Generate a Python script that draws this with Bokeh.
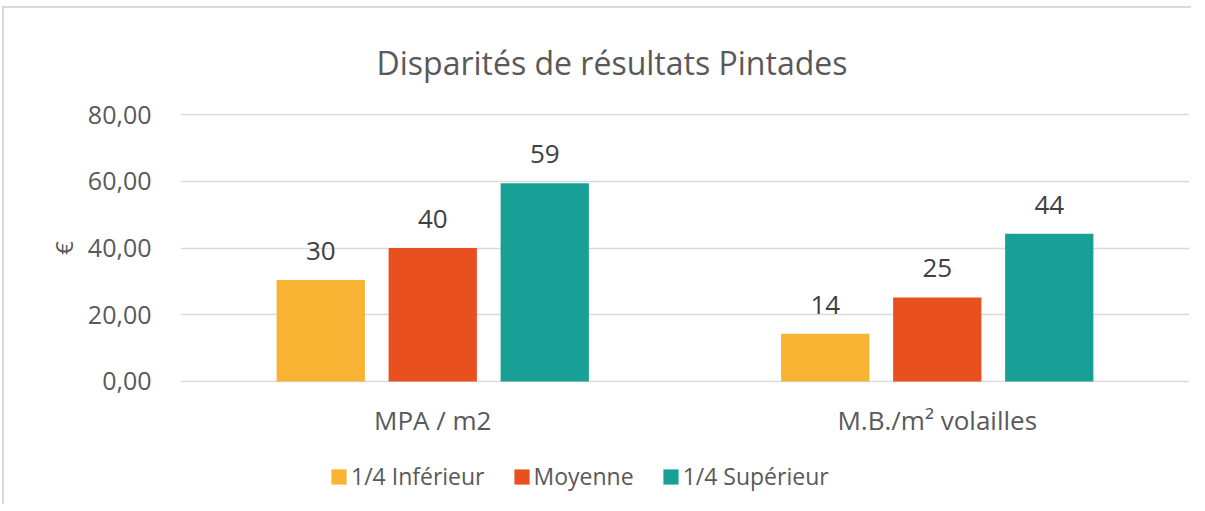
from bokeh.plotting import figure
from bokeh.models import ColumnDataSource, FactorRange, FixedTicker, CustomJSTickFormatter, Legend, LegendItem, Title
from bokeh.layouts import column
from bokeh.transform import dodge
from bokeh.core.properties import value
from bokeh.embed import file_html
from bokeh.resources import INLINE

categories = ["MPA / m2", "M.B./m² volailles"]
series_names = ["1/4 Inférieur", "Moyenne", "1/4 Supérieur"]
inferieur = [30.4, 14.3]
moyenne = [40.0, 25.2]
superieur = [59.4, 44.3]
y_ticks = [0, 20, 40, 60, 80]
colors = ["#F8B332", "#E85020", "#18A096"]

FONT = "Open Sans"
GREY = "#595959"
BORDER = "2px solid #d9d9d9"

src = ColumnDataSource(dict(
    cat=categories,
    inf=inferieur, moy=moyenne, sup=superieur,
    inf_t=[f"{v:.0f}" for v in inferieur],
    moy_t=[f"{v:.0f}" for v in moyenne],
    sup_t=[f"{v:.0f}" for v in superieur],
))

p = figure(x_range=FactorRange(*categories, range_padding=0), y_range=(-0.3, 80.3),
           frame_width=1007, frame_height=267,
           min_border_left=176, min_border_right=4, min_border_top=90, min_border_bottom=60,
           output_backend="svg", toolbar_location=None)
p.margin = (6, 0, 0, 2)
p.styles = {"border-left": BORDER, "border-top": BORDER}
p.outline_line_color = None
p.background_fill_color = "white"
p.border_fill_color = "white"

p.title = Title(text="Disparités de résultats Pintades", align="left", offset=196,
                text_font=FONT, text_font_size="32px", text_font_style="normal",
                text_color=GREY, standoff=60)

offsets = [-0.222, 0.0, 0.222]
fields = ["inf", "moy", "sup"]
for f, off, c in zip(fields, offsets, colors):
    p.vbar(x=dodge("cat", off, range=p.x_range), top=f, width=0.175, source=src,
           fill_color=c, line_color=None)
    p.text(x=dodge("cat", off, range=p.x_range), y=f, text=f + "_t", source=src,
           text_align="center", text_baseline="alphabetic", y_offset=-29,
           text_font=value(FONT), text_font_size="26px", text_color="#404040")

p.xgrid.grid_line_color = None
p.ygrid.grid_line_color = "#d9d9d9"
p.ygrid.grid_line_width = 1.5

p.yaxis.ticker = FixedTicker(ticks=y_ticks)
p.yaxis.formatter = CustomJSTickFormatter(code="return tick.toFixed(2).replace('.', ',');")
p.yaxis.axis_line_color = None
p.yaxis.major_tick_line_color = None
p.yaxis.minor_tick_line_color = None
p.yaxis.major_tick_out = 0
p.yaxis.major_label_standoff = 29
p.yaxis.major_label_text_font = FONT
p.yaxis.major_label_text_font_size = "25px"
p.yaxis.major_label_text_color = GREY
p.yaxis.axis_label = "€"
p.yaxis.axis_label_text_font = FONT
p.yaxis.axis_label_text_font_size = "24px"
p.yaxis.axis_label_text_font_style = "normal"
p.yaxis.axis_label_text_color = GREY
p.yaxis.axis_label_standoff = 5

p.xaxis.axis_line_color = None
p.xaxis.major_tick_line_color = None
p.xaxis.minor_tick_line_color = None
p.xaxis.major_tick_out = 0
p.xaxis.major_label_standoff = 19
p.xaxis.major_label_text_font = FONT
p.xaxis.major_label_text_font_size = "26px"
p.xaxis.major_label_text_color = GREY

# legend strip (renderers hidden; they only supply the legend swatches)
p2 = figure(x_range=FactorRange(*categories, range_padding=0), y_range=(0, 80),
            frame_width=1007, frame_height=64,
            min_border_left=176, min_border_right=4, min_border_top=0, min_border_bottom=0,
            output_backend="svg", toolbar_location=None)
p2.margin = (0, 0, 0, 2)
p2.styles = {"border-left": BORDER}
p2.outline_line_color = None
p2.xaxis.visible = False
p2.yaxis.visible = False
p2.xgrid.visible = False
p2.ygrid.visible = False
legend_renderers = []
for f, off, c in zip(fields, offsets, colors):
    r = p2.vbar(x=dodge("cat", off, range=p2.x_range), top=f, width=0.175, source=src,
                fill_color=c, line_color=None, visible=False)
    legend_renderers.append(r)

legend = Legend(items=[LegendItem(label=n, renderers=[r]) for n, r in zip(series_names, legend_renderers)],
                orientation="horizontal", location=(149, 12),
                glyph_width=19, glyph_height=19, label_standoff=3, spacing=27,
                padding=0, margin=0, border_line_color=None, background_fill_alpha=0,
                inactive_fill_alpha=0,
                label_text_font=FONT, label_text_font_size="23px", label_text_color=GREY)
p2.add_layout(legend, "center")

layout = column(p, p2, spacing=0)
open("out.html", "w").write(file_html(layout, INLINE))
